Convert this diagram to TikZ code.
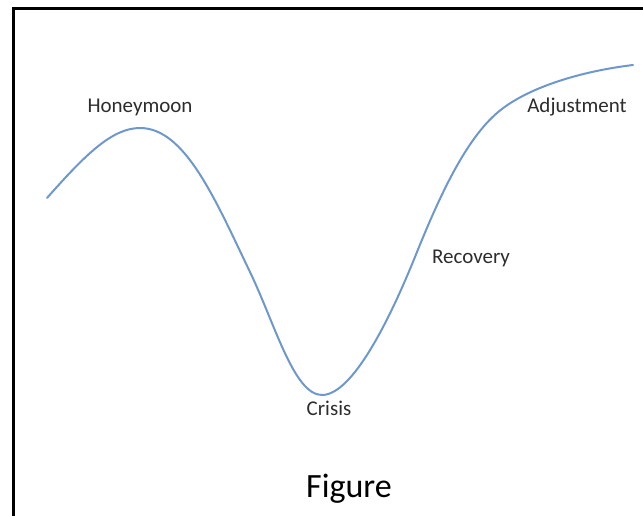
\documentclass[tikz,border=0pt]{standalone}
\usepackage{fontspec}
\setmainfont{Carlito}
\definecolor{curveblue}{RGB}{110,152,205}
\definecolor{labelgray}{RGB}{45,45,45}
\begin{document}
\begin{tikzpicture}[x=1pt,y=-1pt,
  stage/.style={text=labelgray,font=\fontsize{21}{24}\selectfont,inner sep=0pt},
  caption/.style={text=black,font=\fontsize{34}{38}\selectfont,inner sep=0pt}]
  \useasboundingbox (0,0) rectangle (643,515);
  % frame (open towards right and bottom)
  \draw[line width=3pt,line cap=rect] (13,520) -- (13,8.5) -- (650,8.5);
  % adjustment curve
  \draw[curveblue,line width=2pt,line cap=round]
    (47,198) .. controls (85,155) and (112,128) .. (140,128)
             .. controls (185,128) and (215,199) .. (250,272)
             .. controls (275,324) and (294,395) .. (322,395)
             .. controls (352,395) and (389,322) .. (417,252)
             .. controls (442,190) and (467,139) .. (497,113)
             .. controls (527,87) and (583,71) .. (633,65);
  % stage labels
  \node[stage] (honeymoon) at (140,107) {Honeymoon};
  \node[stage] (crisis) at (329,408) {Crisis};
  \node[stage] (recovery) at (471,258) {Recovery};
  \node[stage] (adjustment) at (577,107) {Adjustment};
  \node[caption] (fig) at (349,489) {Figure};
\end{tikzpicture}
\end{document}
